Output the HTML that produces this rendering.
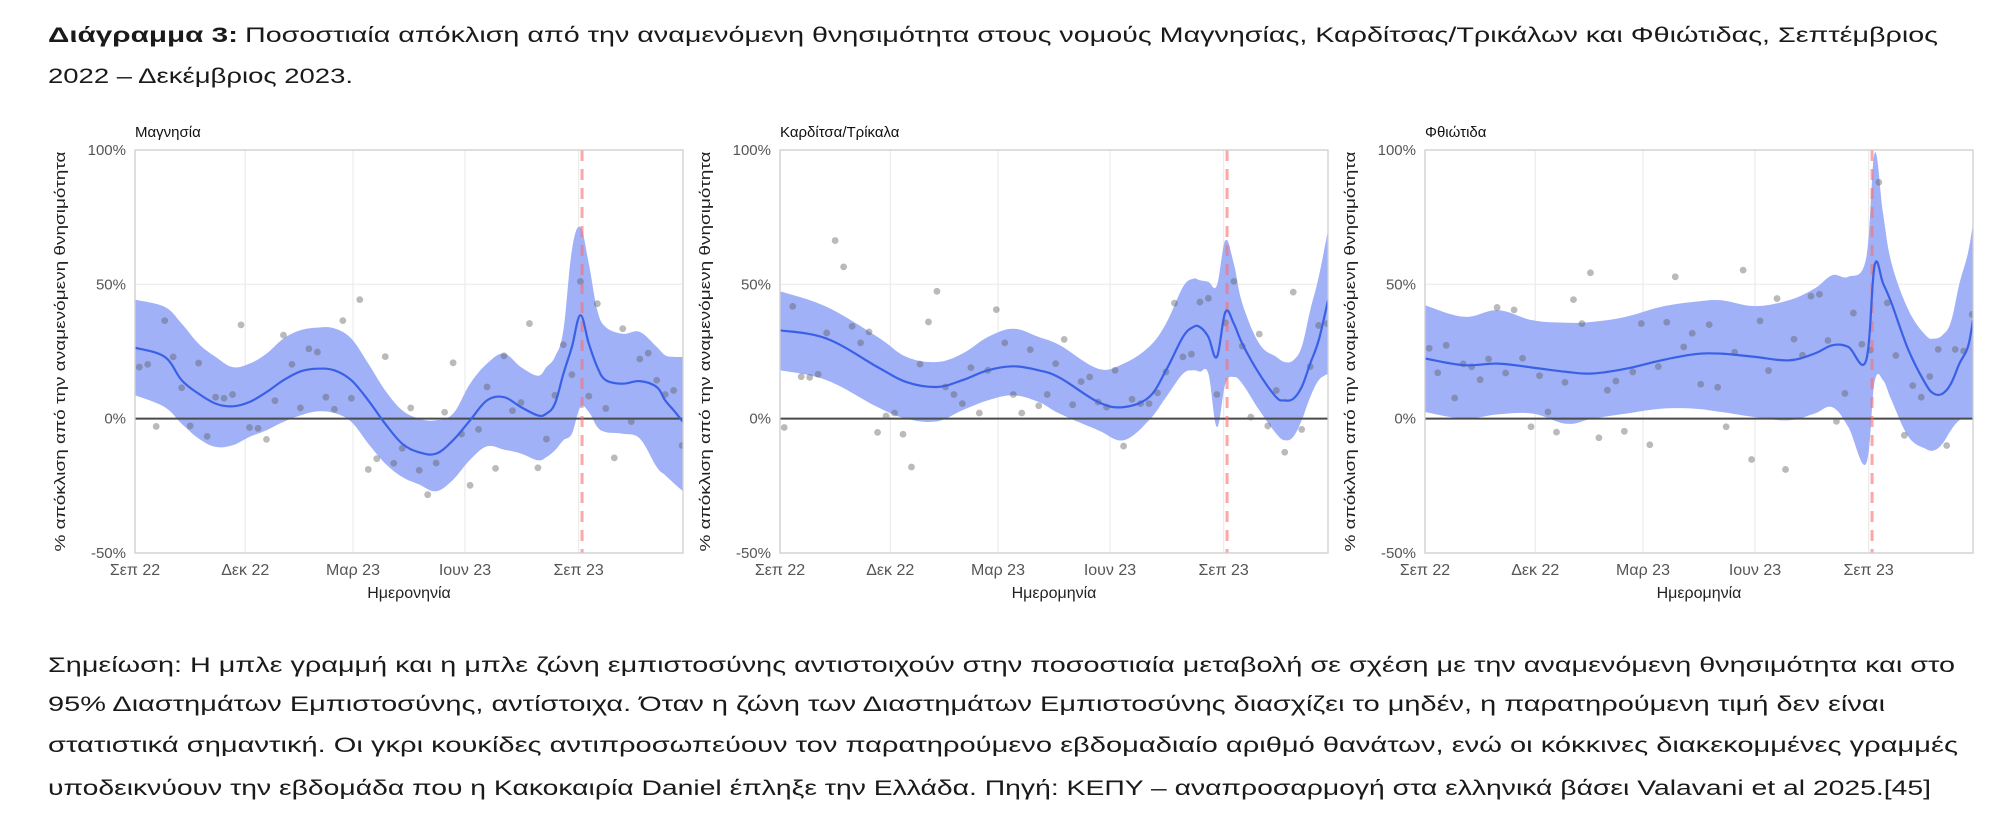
<!DOCTYPE html>
<html><head><meta charset="utf-8">
<style>
html,body{margin:0;padding:0;background:#fff;}
svg{display:block;}
</style></head>
<body>
<svg id="root" width="1991" height="825" viewBox="0 0 1991 825" xmlns="http://www.w3.org/2000/svg" font-family="'Liberation Sans', 'Noto Sans CJK SC', sans-serif">
  <g fill="#1a1a1a" font-size="21">
    <text x="48" y="42" font-weight="bold" textLength="190" lengthAdjust="spacingAndGlyphs">Διάγραμμα 3:</text>
    <text x="245" y="42" textLength="1693" lengthAdjust="spacingAndGlyphs">Ποσοστιαία απόκλιση από την αναμενόμενη θνησιμότητα στους νομούς Μαγνησίας, Καρδίτσας/Τρικάλων και Φθιώτιδας, Σεπτέμβριος</text>
    <text x="48" y="83" textLength="305" lengthAdjust="spacingAndGlyphs">2022 – Δεκέμβριος 2023.</text>
  </g>
  <g id="panels"></g>
  <g fill="#1a1a1a" font-size="21">
    <text x="48" y="672" textLength="1907" lengthAdjust="spacingAndGlyphs">Σημείωση: Η μπλε γραμμή και η μπλε ζώνη εμπιστοσύνης αντιστοιχούν στην ποσοστιαία μεταβολή σε σχέση με την αναμενόμενη θνησιμότητα και στο</text>
    <text x="48" y="711" textLength="1837" lengthAdjust="spacingAndGlyphs">95% Διαστημάτων Εμπιστοσύνης, αντίστοιχα. Όταν η ζώνη των Διαστημάτων Εμπιστοσύνης διασχίζει το μηδέν, η παρατηρούμενη τιμή δεν είναι</text>
    <text x="48" y="752" textLength="1910" lengthAdjust="spacingAndGlyphs">στατιστικά σημαντική. Οι γκρι κουκίδες αντιπροσωπεύουν τον παρατηρούμενο εβδομαδιαίο αριθμό θανάτων, ενώ οι κόκκινες διακεκομμένες γραμμές</text>
    <text x="48" y="795" textLength="1883" lengthAdjust="spacingAndGlyphs">υποδεικνύουν την εβδομάδα που η Κακοκαιρία Daniel έπληξε την Ελλάδα. Πηγή: ΚΕΠΥ – αναπροσαρμογή στα ελληνικά βάσει Valavani et al 2025.[45]</text>
  </g>
</svg>
<script>
// ---- shared axis data ----
const tickLabels = ["Σεπ 22","Δεκ 22","Μαρ 23","Ιουν 23","Σεπ 23"];
const tickWeeks = [0, 13, 25.7, 38.9, 52.3];
const yTicks = [100, 50, 0, -50];
const yTickLabels = ["100%","50%","0%","-50%"];
const danielWeek = 52.7;
const weekMax = 64.6;

// ---- panel names ----
const panelTitles = ["Μαγνησία","Καρδίτσα/Τρίκαλα","Φθιώτιδα"];
const xTitles = ["Ημερονηνία","Ημερομηνία","Ημερομηνία"];

// ---- observed weekly points (week i+0.5) ----
const obsMagnesia = [19.2,20.2,-2.9,36.5,23,11.5,-2.7,20.7,-6.6,8,7.6,9,34.9,-3.3,-3.6,-7.7,6.7,31.1,20.2,4,26,24.8,8,3.5,36.5,7.6,44.3,-18.9,-14.9,23.1,-16.6,-11,4,-19.2,-28.3,-16.5,2.4,20.8,-5.7,-24.8,-4,11.8,-18.5,23.4,3,6,35.4,-18.3,-7.6,8.7,27.5,16.4,51.1,8.4,42.8,3.8,-14.6,33.5,-1.1,22.2,24.4,14.3,9,10.5,-10];
const obsKarditsa = [-3.3,41.8,15.6,15.4,16.5,31.9,66.3,56.5,34.4,28.2,32.3,-5.1,1,2.1,-5.8,-18,20.3,36,47.4,11.8,9,5.6,19,2.1,18,40.6,28.2,9,2.1,25.7,4.8,9,20.5,29.5,5.2,13.8,15.5,6.2,4.3,18,-10.2,7.2,5.6,5.6,9.6,17.4,43,23,24,43.4,44.8,9,35.7,51.1,27,0.6,31.5,-2.7,10.5,-12.5,47.1,-4,19.4,34.7,35.4];
const obsFthiotida = [26.2,17.1,27.3,7.7,20.4,19.3,14.5,22.2,41.4,17,40.5,22.5,-3,16,2.5,-5,13.5,44.3,35.4,54.3,-7.1,10.6,14,-4.7,17.4,35.4,-9.7,19.4,35.9,52.8,26.7,31.8,12.8,35,11.7,-3,24.7,55.3,-15.2,36.4,17.9,44.7,-18.9,29.6,23.6,45.6,46.3,29.1,-1,9.4,39.3,27.7,25.5,88,43.1,23.5,-6.2,12.3,8,15.7,25.8,-10,25.8,25.2,38.8];

// ---- fitted trend & 95% CI knots ----
const knotsMagnesia = [0,3.5,5.5,7.5,9.5,11.5,13.5,15.5,17.5,19.5,21.5,23.5,25.5,27.5,29.5,31.5,33.5,35.5,37.5,39.5,41.5,43.5,45.5,47.5,48.5,49.5,50.5,51.5,52.5,53.5,54.5,55.5,57.5,59.5,61.5,62.5,63.5,64.6];
const trendMagnesia = [26.4,23,14.3,9.3,5.6,4.6,6.2,9.9,14.3,17.6,18.6,18,14.3,6.8,-1.9,-9.3,-12.5,-13,-8,-0.6,6.8,8,4.3,1.2,1.9,5.6,16.7,26.7,38.5,27.9,19.2,14.3,13,14,11.8,6.8,3.1,-1.2];
const upperMagnesia = [44.3,41.6,35.4,27.9,23,19.2,20.5,24.2,29.8,32.9,33.9,33.6,29.8,20.5,10.5,3.1,0,-0.6,1.9,13,20.5,24.2,19.2,16,19.2,23,32.9,62.7,71.3,57.7,40.3,34.1,31.6,32.3,26.7,23.6,23,23];
const lowerMagnesia = [8.7,4.3,-1.9,-7.4,-10.5,-9.9,-6.8,-4.3,-1.2,1.2,2.7,2.1,-1.2,-9.3,-16.7,-21.7,-24.5,-27,-22.7,-15.3,-10.3,-11.5,-13,-15.5,-14.3,-11.8,-8,-5.6,4.3,2.5,-3.1,-5,-5.6,-7.4,-18,-21,-24,-27];

const knotsKarditsa = [0,5.5,11.5,14.9,18.5,21.5,24.5,27.5,30.5,33,37.5,40.5,43.5,45.5,47.5,48.7,49.5,50.5,51.5,52.5,53.5,54.5,56.5,58.5,59.5,60.5,61.5,62.5,63.5,64.6];
const trendKarditsa = [32.9,29.8,19.2,13.6,11.8,14.3,18,19.5,18,15.2,6.2,4.3,8,18,30.4,34.1,34.1,30.4,23,39.7,35.4,27.9,16.7,8,6.8,7.4,11.8,20.5,29.2,44];
const upperKarditsa = [47.4,41.6,30.4,23,21.1,24.2,30.4,33.5,30.4,27.3,18.6,20.5,26.7,35.4,49,52.1,51.5,50.9,49.6,66.4,57.7,42.9,27.9,23,21.1,21.7,26.7,40.3,52.7,70.1];
const lowerKarditsa = [18,14.3,4.3,0,-1,3.1,6.8,8.7,6.2,1.8,-4.3,-8,-0.6,8,16.7,18,17.5,16.7,-3.1,13,15.5,13,3.1,-5.6,-8,-6.8,-0.6,8,14.3,16.7];

const knotsFthiotida = [0,4.6,8.6,12.7,16.7,19.7,23.7,27.8,31.8,34.9,38.9,42.9,45.9,48,49.9,52,53,54,55,57,59,60,61,62,63,64,64.6];
const trendFthiotida = [22.4,19.9,20.5,19,17.4,16.8,18.6,21.7,24,24.2,23,21.7,24.2,27.3,26.7,21.7,57,50.3,42.9,25.5,13,9.3,9.3,13,20.5,26.7,36.6];
const upperFthiotida = [42.2,37.9,40.4,36.6,35.7,36,37.9,41.6,43.5,44.1,41.9,44.1,48.4,53.4,52.8,59.6,98.8,76.4,57.8,40.4,31.1,29.8,31.1,36,50.3,61.5,72.7];
const lowerFthiotida = [2.5,0,1.6,1.9,-1.9,0,1.9,3.7,3.7,2.5,0.6,-0.6,1.9,4.3,-3.1,-16.8,13.7,14.3,6.8,-6.8,-11.2,-11.8,-9.3,-4.3,-0.6,0,0];

const panelSeries = [
  {obs: obsMagnesia, knots: knotsMagnesia, trend: trendMagnesia, upper: upperMagnesia, lower: lowerMagnesia},
  {obs: obsKarditsa, knots: knotsKarditsa, trend: trendKarditsa, upper: upperKarditsa, lower: lowerKarditsa},
  {obs: obsFthiotida, knots: knotsFthiotida, trend: trendFthiotida, upper: upperFthiotida, lower: lowerFthiotida}
];

// ---- layout ----
const NS = "http://www.w3.org/2000/svg";
const panelLeft = [135, 780, 1425];
const plotW = 548, plotTop = 150, plotBottom = 553;
const yMin = -50, yMax = 100;

function mk(tag, attrs, parent) {
  const e = document.createElementNS(NS, tag);
  for (const k in attrs) e.setAttribute(k, attrs[k]);
  if (parent) parent.appendChild(e);
  return e;
}
function smoothPath(pts) {
  let d = "M" + pts[0][0].toFixed(1) + "," + pts[0][1].toFixed(1);
  for (let i = 0; i < pts.length - 1; i++) {
    const p0 = pts[Math.max(0, i - 1)], p1 = pts[i], p2 = pts[i + 1], p3 = pts[Math.min(pts.length - 1, i + 2)];
    const t = 0.18;
    const c1 = [p1[0] + (p2[0] - p0[0]) * t, p1[1] + (p2[1] - p0[1]) * t];
    const c2 = [p2[0] - (p3[0] - p1[0]) * t, p2[1] - (p3[1] - p1[1]) * t];
    d += "C" + c1[0].toFixed(1) + "," + c1[1].toFixed(1) + " " + c2[0].toFixed(1) + "," + c2[1].toFixed(1) + " " + p2[0].toFixed(1) + "," + p2[1].toFixed(1);
  }
  return d;
}

const root = document.getElementById("panels");
panelSeries.forEach((s, p) => {
  const L = panelLeft[p];
  const xs = w => L + (w / weekMax) * plotW;
  const ys = v => plotBottom - (v - yMin) / (yMax - yMin) * (plotBottom - plotTop);
  const g = mk("g", {}, root);
  
  

  const cp = mk("clipPath", {id: "clip" + p}, g);
  mk("rect", {x: L, y: plotTop, width: plotW, height: plotBottom - plotTop}, cp);

  yTicks.forEach(v => {
    const ln = mk("line", {x1: L, x2: L + plotW, y1: ys(v), y2: ys(v), stroke: "#ebebeb", "stroke-width": 1.2}, g);
    
    
  });
  tickWeeks.forEach(w => {
    const ln = mk("line", {x1: xs(w), x2: xs(w), y1: plotTop, y2: plotBottom, stroke: "#ebebeb", "stroke-width": 1.2}, g);
    
    
  });

  const inner = mk("g", {"clip-path": "url(#clip" + p + ")"}, g);
  const up = s.knots.map((w, i) => [xs(w), ys(s.upper[i])]);
  const lo = s.knots.map((w, i) => [xs(w), ys(s.lower[i])]).reverse();
  const loPath = smoothPath(lo);
  const bandD = smoothPath(up) + "L" + lo[0][0].toFixed(1) + "," + lo[0][1].toFixed(1) + loPath.slice(loPath.indexOf("C")) + "Z";
  const band = mk("path", {d: bandD, fill: "#a0b1f8", stroke: "none"}, inner);
  
  

  const z = mk("line", {x1: L, x2: L + plotW, y1: ys(0), y2: ys(0), stroke: "#4a4a4a", "stroke-width": 2}, inner);
  
  

  s.obs.forEach((v, i) => {
    const c = mk("circle", {cx: xs(i + 0.5), cy: ys(v), r: 3.4, fill: "rgba(90,90,90,0.42)"}, inner);
    
    
  });

  const rl = mk("line", {x1: xs(danielWeek), x2: xs(danielWeek), y1: plotTop, y2: plotBottom, stroke: "rgba(250,110,110,0.6)", "stroke-width": 3, "stroke-dasharray": "11 8"}, inner);
  
  

  const tr = mk("path", {d: smoothPath(s.knots.map((w, i) => [xs(w), ys(s.trend[i])])), fill: "none", stroke: "#3a60e6", "stroke-width": 2.2}, inner);
  
  

  const br = mk("rect", {x: L, y: plotTop, width: plotW, height: plotBottom - plotTop, fill: "none", stroke: "#cfcfcf", "stroke-width": 1.3}, g);
  
  

  yTicks.forEach((v, i) => {
    const t = mk("text", {x: L - 9, y: ys(v) + 5, "text-anchor": "end", "font-size": 15, fill: "#555"}, g);
    t.textContent = yTickLabels[i];
    
    
  });
  tickWeeks.forEach((w, i) => {
    const t = mk("text", {x: xs(w), y: plotBottom + 22, "text-anchor": "middle", "font-size": 16, fill: "#555"}, g);
    t.textContent = tickLabels[i];
    
    
  });
  const xt = mk("text", {x: L + plotW / 2, y: plotBottom + 45, "text-anchor": "middle", "font-size": 16, fill: "#222"}, g);
  xt.textContent = xTitles[p];
  
  
  const cy = (plotTop + plotBottom) / 2;
  const yt = mk("text", {x: 0, y: 0, transform: "translate(" + (L - 70) + "," + cy + ") rotate(-90)", "text-anchor": "middle", "font-size": 15, fill: "#222", textLength: 400, lengthAdjust: "spacingAndGlyphs"}, g);
  yt.textContent = "% απόκλιση από την αναμενόμενη θνησιμότητα";
  
  
  const pt = mk("text", {x: L, y: 137, "font-size": 15, fill: "#111"}, g);
  pt.textContent = panelTitles[p];
  
  
});
</script>
</body></html>
